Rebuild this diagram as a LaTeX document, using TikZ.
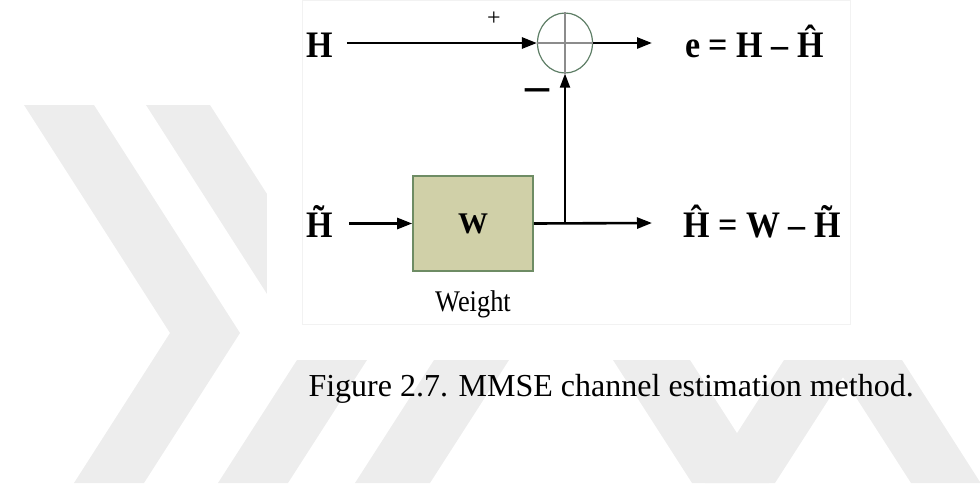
\documentclass[tikz,border=0pt]{standalone}
\usepackage{fontspec}
\setmainfont{Liberation Serif}
\usepackage{tikz}
\usetikzlibrary{positioning,arrows.meta,shapes.geometric}

\definecolor{wfill}{HTML}{D0D0A8}
\definecolor{wedge}{HTML}{6E8C64}
\definecolor{sumedge}{HTML}{5E7E66}
\definecolor{wmgray}{HTML}{EDEDED}
\newcommand{\tilH}{H\char"0303\relax}

\begin{document}
\begin{tikzpicture}[x=1pt, y=-1pt,
  box/.style={draw=wedge, fill=wfill, line width=1.6pt, minimum width=120pt, minimum height=95pt, inner sep=0pt},
  sym/.style={font=\fontsize{34}{40}\selectfont\bfseries, inner sep=0pt, anchor=base west, yscale=1.1},
  arr/.style={-{Triangle[length=15pt,width=11pt]}, line width=2.6pt},
  varr/.style={-{Triangle[length=14pt,width=10pt]}, line width=2pt}]
\useasboundingbox (0,0) rectangle (980,483);
% watermark behind the figure
\fill[wmgray] (24,105) -- (94,105) -- (240,333) -- (144,483) -- (74,483) -- (170,333) -- cycle;
\fill[wmgray] (146,105) -- (210,105) -- (356,333) -- (292,333) -- cycle;
\fill[wmgray] (218,483) -- (288,483) -- (367,360) -- (297,360) -- cycle;
\fill[wmgray] (355,483) -- (430,483) -- (509,360) -- (434,360) -- cycle;
\fill[wmgray] (613,360) -- (690,360) -- (769,483) -- (692,483) -- cycle;
\fill[wmgray] (705,483) -- (775,483) -- (854,360) -- (784,360) -- cycle;
\fill[wmgray] (832,360) -- (902,360) -- (980,482) -- (980,483) -- (911,483) -- cycle;
\fill[white] (267,0) rectangle (980,360);
\draw[black!5] (302,0) rectangle (850,324);

\node[ellipse, draw=sumedge, line width=1.2pt, minimum width=55pt, minimum height=60pt, inner sep=0pt] (sum) at (565,43) {};
\draw[black!45, line width=1.2pt] (sum.north) -- (sum.south) (sum.west) -- (sum.east);
\node[box] (w) at (473,223.5) {\fontsize{30}{36}\selectfont\bfseries W};
\node[font=\fontsize{30}{36}\selectfont, anchor=base, xscale=.88] (wlbl) at (473,311) {Weight};

\node[sym] (h) at (306,57) {H};
\node[sym] (ht) at (306,237) {\tilH};
\node[sym] (e) at (685,57) {e = H – \^{H}};
\node[sym] (hh) at (683,237) {\^{H} = W – \tilH};
\node[font=\fontsize{24}{28}\selectfont] (plus) at (494,19) {+};
\node[font=\fontsize{48}{50}\selectfont\bfseries] (minus) at (537,95) {–};

\coordinate (split) at (565,223);
\coordinate (eout) at (652,43);
\coordinate (hout) at (652,223);
\draw[arr] (h.east |- sum.west) ++(14,0) -- (sum.west);
\draw[arr] (sum.east) -- (eout);
\draw[arr] (ht.east |- w.west) ++(16,0) -- (w.west);
\draw[arr] (w.east) -- (hout);
\draw[varr] (split) -- (sum.south);

\node[font=\fontsize{32}{38}\selectfont, anchor=base west] (cap) at (305,396) {Figure 2.7. MMSE channel estimation method.};
\end{tikzpicture}
\end{document}
